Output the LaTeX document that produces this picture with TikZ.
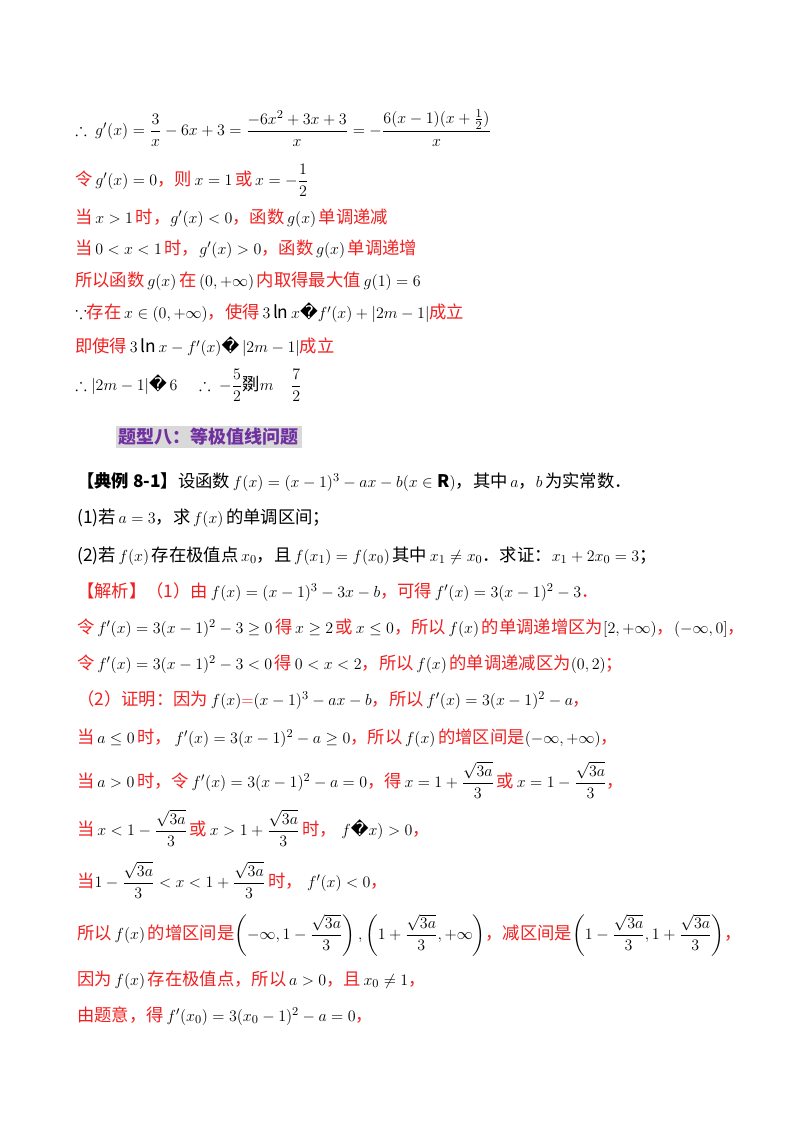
\documentclass[tikz,border=0pt]{standalone}
\usepackage{amsmath,amssymb}
\usepackage{fontspec}
\setmainfont{Noto Sans CJK SC}
\newfontfamily\dv{DejaVu Sans}
\definecolor{rd}{HTML}{F02020}
\definecolor{hdpurple}{HTML}{7030A0}
\newcommand\rd[1]{\textcolor{rd}{#1}}
\newcommand\qq{{\dv\symbol{"FFFD}}}
\begin{document}
\begin{tikzpicture}[x=0.75pt,y=-0.75pt,
  ln/.style={anchor=west,inner sep=0pt,font=\fontsize{13}{15.5}\selectfont},
  hd/.style={anchor=west,inner sep=2pt,fill=black!15,text=hdpurple,font=\fontsize{13.5}{16}\selectfont\bfseries}]
\useasboundingbox (0,0) rectangle (800,1132);
\node[ln] (l1) at (75,128) {$\therefore\ g'(x)=\dfrac{3}{x}-6x+3=\dfrac{-6x^2+3x+3}{x}=-\dfrac{6(x-1)(x+\frac12)}{x}$};
\node[ln] (l2) at (75,180) {\rd{令}$\,g'(x)=0$\rd{，则}$\,x=1\,$\rd{或}$\,x=-\dfrac12$};
\node[ln] (l3) at (75,218) {\rd{当}$\,x>1\,$\rd{时，}$g'(x)<0$\rd{，函数}$\,g(x)\,$\rd{单调递减}};
\node[ln] (l4) at (75,249) {\rd{当}$\,0<x<1\,$\rd{时，}$g'(x)>0$\rd{，函数}$\,g(x)\,$\rd{单调递增}};
\node[ln] (l5) at (75,281) {\rd{所以函数}$\,g(x)\,$\rd{在}$\,(0,+\infty)\,$\rd{内取得最大值}$\,g(1)=6$};
\node[ln] (l6) at (75,313) {$\because$\rd{存在}$\,x\in(0,+\infty)$\rd{，使得}$\,3\ln x$\qq$f'(x)+|2m-1|$\rd{成立}};
\node[ln] (l7) at (75,347) {\rd{即使得}$\,3\ln x-f'(x)$\qq$\,|2m-1|$\rd{成立}};
\node[ln] (l8) at (75,385) {$\therefore|2m-1|$\qq$\,6\quad\therefore\ -\dfrac52$剟$m\quad\dfrac72$};
\node[hd] (h) at (116,437) {题型八：等极值线问题};
\node[ln] (e1) at (77,482) {\textbf{【典例 8-1】}设函数$\,f(x)=(x-1)^3-ax-b(x\in\mathbf{R})$，其中$\,a$，$b\,$为实常数．};
\node[ln] (e2) at (77,518) {(1)若$\,a=3$，求$\,f(x)\,$的单调区间；};
\node[ln] (e3) at (77,556) {(2)若$\,f(x)\,$存在极值点$\,x_0$，且$\,f(x_1)=f(x_0)\,$其中$\,x_1\neq x_0$．求证：$x_1+2x_0=3$；};
\node[ln] (s1) at (77,592) {\rd{【解析】（1）由}$\,f(x)=(x-1)^3-3x-b$\rd{，可得}$\,f'(x)=3(x-1)^2-3$\rd{．}};
\node[ln] (s2) at (77,628) {\rd{令}$\,f'(x)=3(x-1)^2-3\geq0\,$\rd{得}$\,x\geq2\,$\rd{或}$\,x\leq0$\rd{，所以}$\,f(x)\,$\rd{的单调递增区为}$[2,+\infty)$\rd{，}$(-\infty,0]$\rd{，}};
\node[ln] (s3) at (77,664) {\rd{令}$\,f'(x)=3(x-1)^2-3<0\,$\rd{得}$\,0<x<2$\rd{，所以}$\,f(x)\,$\rd{的单调递减区为}$(0,2)$\rd{；}};
\node[ln] (s4) at (77,700) {\rd{（2）证明：因为}$\,f(x)\rd{=}(x-1)^3-ax-b$\rd{，所以}$\,f'(x)=3(x-1)^2-a$\rd{，}};
\node[ln] (s5) at (77,738) {\rd{当}$\,a\leq0\,$\rd{时，}$\,f'(x)=3(x-1)^2-a\geq0$\rd{，所以}$\,f(x)\,$\rd{的增区间是}$(-\infty,+\infty)$\rd{，}};
\node[ln] (s6) at (77,780) {\rd{当}$\,a>0\,$\rd{时，令}$\,f'(x)=3(x-1)^2-a=0$\rd{，得}$\,x=1+\dfrac{\sqrt{3a}}{3}\,$\rd{或}$\,x=1-\dfrac{\sqrt{3a}}{3}$\rd{，}};
\node[ln] (s7) at (77,828) {\rd{当}$\,x<1-\dfrac{\sqrt{3a}}{3}\,$\rd{或}$\,x>1+\dfrac{\sqrt{3a}}{3}\,$\rd{时，}$\;f$\qq$x)>0$\rd{，}};
\node[ln] (s8) at (77,880) {\rd{当}$1-\dfrac{\sqrt{3a}}{3}<x<1+\dfrac{\sqrt{3a}}{3}\,$\rd{时，}$\;f'(x)<0$\rd{，}};
\node[ln] (s9) at (77,935) {\rd{所以}$\,f(x)\,$\rd{的增区间是}$\left(-\infty,1-\dfrac{\sqrt{3a}}{3}\right),\left(1+\dfrac{\sqrt{3a}}{3},+\infty\right)$\rd{，减区间是}$\left(1-\dfrac{\sqrt{3a}}{3},1+\dfrac{\sqrt{3a}}{3}\right)$\rd{，}};
\node[ln] (s10) at (77,980) {\rd{因为}$\,f(x)\,$\rd{存在极值点，所以}$\,a>0$\rd{，且}$\,x_0\neq1$\rd{，}};
\node[ln] (s11) at (77,1016) {\rd{由题意，得}$\,f'(x_0)=3(x_0-1)^2-a=0$\rd{，}};
\end{tikzpicture}
\end{document}
